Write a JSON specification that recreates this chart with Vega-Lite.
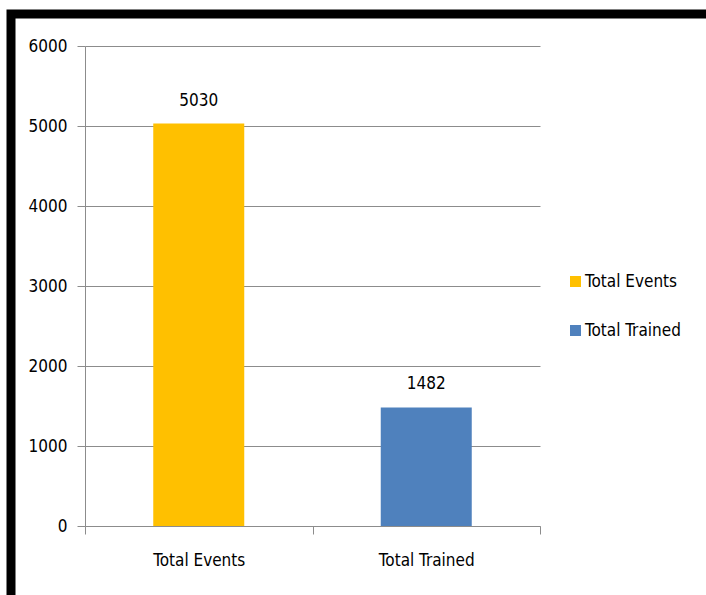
{
  "$schema": "https://vega.github.io/schema/vega-lite/v6.json",
  "width": 455,
  "height": 480,
  "autosize": "none",
  "padding": {"left": 85, "top": 46, "right": 166, "bottom": 69},
  "background": "white",
  "config": {
    "view": {"stroke": null},
    "font": "DejaVu Sans Condensed, DejaVu Sans, sans-serif",
    "legend": {"strokeWidth": 9}
  },
  "data": {
    "values": [
      {"category": "Total Events", "value": 5030},
      {"category": "Total Trained", "value": 1482}
    ]
  },
  "layer": [
    {
      "mark": {"type": "bar", "width": {"band": 0.4}},
      "encoding": {
        "x": {
          "field": "category",
          "type": "nominal",
          "sort": null,
          "scale": {"paddingInner": 0, "paddingOuter": 0},
          "axis": {
            "title": null,
            "tickBand": "extent",
            "labelAngle": 0,
            "domainColor": "#8c8c8c",
            "tickColor": "#8c8c8c",
            "tickSize": 8,
            "labelFont": "DejaVu Sans Condensed, DejaVu Sans, sans-serif",
            "labelFontSize": 17,
            "labelColor": "#000000",
            "labelPadding": 18,
            "grid": false
          }
        },
        "y": {
          "field": "value",
          "type": "quantitative",
          "scale": {"domain": [0, 6000], "nice": false},
          "axis": {
            "title": null,
            "values": [0, 1000, 2000, 3000, 4000, 5000, 6000],
            "format": "d",
            "grid": true,
            "gridColor": "#8c8c8c",
            "gridOpacity": 1,
            "domainColor": "#8c8c8c",
            "tickColor": "#8c8c8c",
            "tickSize": 8,
            "labelFont": "DejaVu Sans Condensed, DejaVu Sans, sans-serif",
            "labelFontSize": 17,
            "labelColor": "#000000",
            "labelPadding": 10
          }
        },
        "color": {
          "field": "category",
          "type": "nominal",
          "sort": null,
          "scale": {"range": ["#FFC000", "#4F81BD"]},
          "legend": {
            "title": null,
            "orient": "none",
            "legendX": 482,
            "legendY": 227,
            "padding": 0,
            "symbolType": "square",
            "symbolSize": 121,
            "symbolStrokeWidth": 0,
            "symbolOpacity": 1,
            "labelFont": "DejaVu Sans Condensed, DejaVu Sans, sans-serif",
            "labelFontSize": 17,
            "labelColor": "#000000",
            "labelOffset": 1,
            "rowPadding": 31
          }
        }
      }
    },
    {
      "mark": {
        "type": "text",
        "baseline": "alphabetic",
        "dy": -18,
        "fontSize": 17,
        "color": "#000000",
        "font": "DejaVu Sans Condensed, DejaVu Sans, sans-serif"
      },
      "encoding": {
        "x": {"field": "category", "type": "nominal", "sort": null},
        "y": {"field": "value", "type": "quantitative"},
        "text": {"field": "value", "type": "quantitative", "format": "d"}
      }
    },
    {
      "mark": {"type": "point", "opacity": 0},
      "encoding": {
        "shape": {
          "datum": "frame",
          "legend": {
            "title": null,
            "orient": "none",
            "legendX": -74,
            "legendY": -32,
            "padding": 400,
            "strokeColor": "#000000",
            "symbolOpacity": 0,
            "labelOpacity": 0
          }
        }
      }
    }
  ]
}
